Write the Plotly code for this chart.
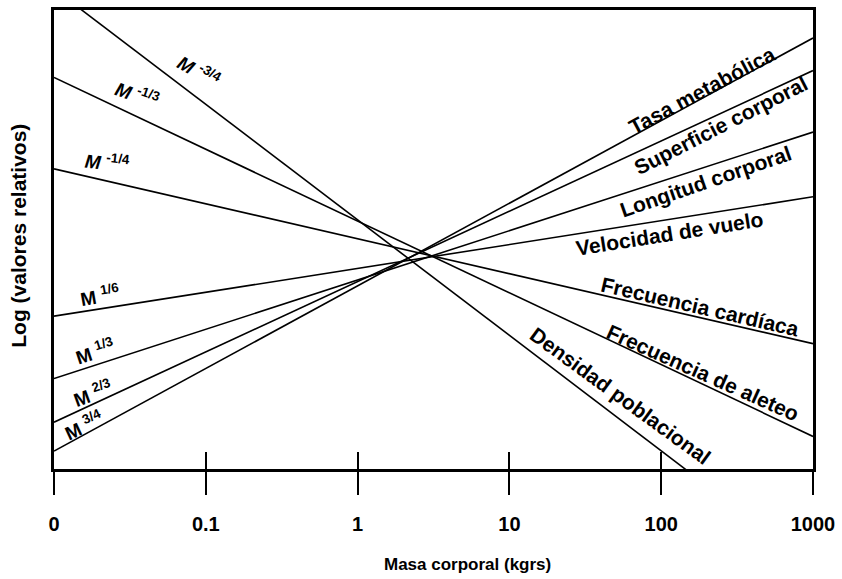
import plotly.graph_objects as go

# Body mass at the two ends of the axis (kg, log scale)
masa_kg = [0.01, 1000]

# Relative log values of each allometric quantity at both ends of the mass range
series_nombres = [
    "Tasa metabólica", "Superficie corporal", "Longitud corporal",
    "Velocidad de vuelo", "Frecuencia cardíaca", "Frecuencia de aleteo",
    "Densidad poblacional",
]
series_exponentes = ["3/4", "2/3", "1/3", "1/6", "-1/4", "-1/3", "-3/4"]
tasa_metabolica = [0.39, 9.39]
superficie_corporal = [1.02, 8.68]
longitud_corporal = [1.97, 7.34]
velocidad_vuelo = [3.33, 5.93]
frecuencia_cardiaca = [6.54, 2.73]
frecuencia_aleteo = [8.53, 0.71]
densidad_poblacional = [10.46, -2.12]

tick_valores = [0.01, 0.1, 1, 10, 100, 1000]
tick_textos = ["0", "0.1", "1", "10", "100", "1000"]

series_valores = [tasa_metabolica, superficie_corporal, longitud_corporal,
                  velocidad_vuelo, frecuencia_cardiaca, frecuencia_aleteo,
                  densidad_poblacional]

W, H = 842, 579
L, R, T, B = 54, 817, 7, 469
FONT = "Liberation Sans, Arial, sans-serif"


def px(x, y):
    return (x - L) / (R - L), (B - y) / (B - T)


fig = go.Figure()
for i, (nombre, vals) in enumerate(zip(series_nombres, series_valores)):
    fig.add_trace(go.Scatter(
        x=masa_kg, y=vals, mode="lines", name=nombre,
        line=dict(color="black", width=1.6),
        xaxis="x2" if i == 0 else "x", hoverinfo="skip",
    ))

# Curve labels along the right side
etiquetas_der = [
    ("Tasa metabólica", 705, 88, -28),
    ("Superficie corporal", 724, 123, -27),
    ("Longitud corporal", 709, 180, -19),
    ("Velocidad de vuelo", 673, 232, -9),
    ("Frecuencia cardíaca", 703, 305, 13),
    ("Frecuencia de aleteo", 706, 372, 24),
    ("Densidad poblacional", 623, 395, 36),
]
# Power-law labels along the left side
etiquetas_izq = [
    ("-3/4", 200, 68, 30, True),
    ("-1/3", 137, 92, 19, True),
    ("-1/4", 108, 160, 6, True),
    ("1/6", 100, 294, -10, False),
    ("1/3", 95, 350, -18, False),
    ("2/3", 93, 393, -20, False),
    ("3/4", 84, 425, -25, False),
]

anns = []
base = dict(xref="paper", yref="paper", showarrow=False,
            xanchor="center", yanchor="middle")
for texto, x, y, ang in etiquetas_der:
    xp, yp = px(x, y)
    anns.append(dict(base, x=xp, y=yp, text=f"<b>{texto}</b>", textangle=ang,
                     font=dict(family=FONT, size=21, color="black")))
for exp, x, y, ang, cursiva in etiquetas_izq:
    xp, yp = px(x, y)
    m = "<i>M</i>" if cursiva else "M"
    anns.append(dict(base, x=xp, y=yp, text=f"<b>{m} <sup>{exp}</sup></b>",
                     textangle=ang,
                     font=dict(family=FONT, size=19, color="black")))

xp, yp = px(470, 565)
anns.append(dict(base, x=xp, y=yp, text="<b>Masa corporal (kgrs)</b>",
                 font=dict(family=FONT, size=17, color="black")))
xp, yp = px(18, 234)
anns.append(dict(base, x=xp, y=yp, text="<b>Log (valores relativos)</b>",
                 textangle=-90,
                 font=dict(family=FONT, size=21, color="black")))

eje_x = dict(type="log", range=[-2, 3], tickvals=tick_valores,
             showgrid=False, zeroline=False)

fig.update_layout(
    width=W, height=H,
    margin=dict(l=L, r=W - R, t=T, b=H - B),
    paper_bgcolor="white", plot_bgcolor="white",
    showlegend=False,
    xaxis=dict(**eje_x, ticktext=[f"<b>{t}</b>" for t in tick_textos],
               ticks="outside", ticklen=23,
               tickwidth=2, tickcolor="black", ticklabelstandoff=12,
               showline=True, mirror=True, linewidth=3, linecolor="black",
               tickfont=dict(family=FONT, size=20, color="black")),
    xaxis2=dict(**eje_x, overlaying="x", anchor="y", side="bottom",
                ticks="inside", ticklen=17, tickwidth=2, tickcolor="black",
                showticklabels=False, showline=False),
    yaxis=dict(range=[0, 10], showticklabels=False, ticks="", showgrid=False,
               zeroline=False, showline=True, mirror=True, linewidth=3,
               linecolor="black"),
    annotations=anns,
)

fig.write_html("out.html")
